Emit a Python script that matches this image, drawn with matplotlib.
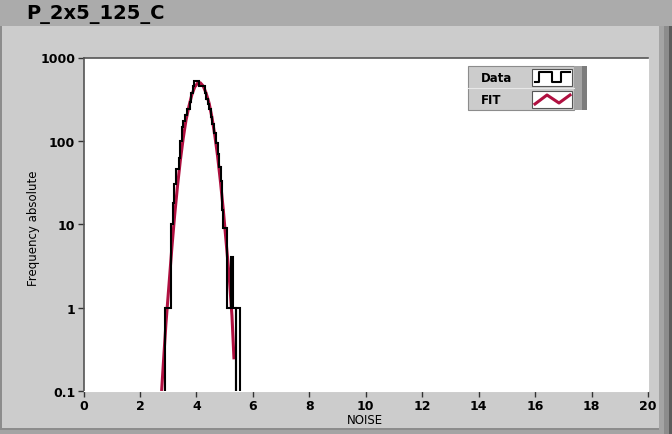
import matplotlib
matplotlib.use("Agg")
import matplotlib.pyplot as plt
from matplotlib.patches import Rectangle
import numpy as np

# ---------------- data ----------------
title = "P_2x5_125_C"
x_label = "NOISE"
y_label = "Frequency absolute"
legend_labels = ["Data", "FIT"]

# histogram bins (edges) and absolute frequencies
bin_edges = [2.87, 3.09, 3.16, 3.22, 3.28, 3.38, 3.43, 3.48, 3.54, 3.60, 3.67,
             3.76, 3.82, 3.88, 3.91, 4.10, 4.31, 4.35, 4.40, 4.45, 4.51, 4.57,
             4.63, 4.69, 4.75, 4.81, 4.86, 4.91, 4.96, 5.09, 5.21, 5.31, 5.40,
             5.41, 5.55]
counts = [1, 10, 18, 30, 46, 62, 100, 145, 175, 205, 240,
          290, 380, 450, 520, 455, 380, 320, 280, 240, 195, 160,
          125, 95, 70, 48, 33, 15, 9, 1, 4, 1, 0,
          1]

# fitted curve
fit_x = [2.75, 2.82, 2.92, 3.03, 3.13, 3.23, 3.33, 3.43, 3.53, 3.63, 3.74,
         3.84, 3.94, 4.04, 4.14, 4.24, 4.34, 4.45, 4.55, 4.65, 4.75, 4.85,
         4.95, 5.05, 5.16, 5.26, 5.33]
fit_y = [0.08, 0.19, 0.64, 1.9, 5.2, 12.9, 28.7, 58, 106, 176, 264,
         359, 442, 492, 497, 455, 377, 283, 192, 118, 66, 33,
         15.2, 6.3, 2.4, 0.8, 0.25]

x_ticks = [0, 2, 4, 6, 8, 10, 12, 14, 16, 18, 20]
y_ticks = [0.1, 1, 10, 100, 1000]
y_tick_labels = ["0.1", "1", "10", "100", "1000"]

# ---------------- figure ----------------
W, H = 672, 435
fig = plt.figure(figsize=(W / 100, H / 100), dpi=100)
fig.patch.set_facecolor("#cccccc")

# background/frame drawn in pixel coordinates
bg = fig.add_axes([0, 0, 1, 1], zorder=-5)
bg.set_xlim(0, W)
bg.set_ylim(H, 0)
bg.axis("off")
bg.add_patch(Rectangle((0, 0), W, 27, facecolor="#ababab", edgecolor="none"))
bg.add_patch(Rectangle((659, 27), 5, H - 27, facecolor="#a4a4a4", edgecolor="none"))
bg.add_patch(Rectangle((664, 27), 5, H - 27, facecolor="#8c8c8c", edgecolor="none"))
bg.add_patch(Rectangle((669, 27), 3, H - 27, facecolor="#5c5c5c", edgecolor="none"))
bg.add_patch(Rectangle((0, 27), 2, H - 27, facecolor="#8c8c8c", edgecolor="none"))
bg.add_patch(Rectangle((0, 429), 659, 6, facecolor="#a4a4a4", edgecolor="none"))
bg.add_patch(Rectangle((0, 429), 659, 1.5, facecolor="#8c8c8c", edgecolor="none"))
bg.text(26, 14, title, fontsize=14, fontweight="bold", color="black",
        ha="left", va="center", family="DejaVu Sans")
bg.text(33, 228, y_label, fontsize=8.5, rotation=90, ha="center", va="center",
        color="black")
bg.text(365, 421, x_label, fontsize=8.5, ha="center", va="center", color="black")

# main plot
L, R, T, B = 83.5, 648, 58.5, 392
ax = fig.add_axes([L / W, 1 - B / H, (R - L) / W, (B - T) / H])
ax.set_facecolor("white")
ax.set_yscale("log")
ax.set_xlim(0, 20)
ax.set_ylim(0.1, 1000)

ax.plot(fit_x, fit_y, color="#b01040", lw=2.2, solid_joinstyle="round", zorder=2)
counts_plot = [c if c > 0 else 1e-3 for c in counts]
ax.stairs(counts_plot, bin_edges, baseline=1e-3, color="black", lw=1.5, zorder=3)

ax.set_xticks(x_ticks)
ax.set_xticklabels([str(t) for t in x_ticks], fontsize=9, fontweight="bold")
ax.set_yticks(y_ticks)
ax.set_yticklabels(y_tick_labels, fontsize=9, fontweight="bold")
ax.minorticks_off()
ax.tick_params(axis="both", direction="out", length=4, width=1, color="#333333",
               pad=2)
for s in ["left", "top"]:
    ax.spines[s].set_color("#555555")
    ax.spines[s].set_linewidth(1.2)
for s in ["right", "bottom"]:
    ax.spines[s].set_color("white")
    ax.spines[s].set_linewidth(0.8)

# legend (drawn like the instrument panel legend)
lg = fig.add_axes([0, 0, 1, 1], zorder=10)
lg.set_xlim(0, W)
lg.set_ylim(H, 0)
lg.axis("off")
lg.add_patch(Rectangle((468, 67), 106, 44, facecolor="#cccccc", edgecolor="#8c8c8c", lw=0.8))
lg.add_patch(Rectangle((574, 67), 8, 44, facecolor="#a4a4a4", edgecolor="none"))
lg.add_patch(Rectangle((582, 67), 5, 44, facecolor="#7c7c7c", edgecolor="none"))
lg.plot([468, 574], [89, 89], color="#e8e8e8", lw=0.8)
lg.text(481, 78.5, legend_labels[0], fontsize=8.5, fontweight="bold", ha="left", va="center")
lg.text(481, 100.5, legend_labels[1], fontsize=8.5, fontweight="bold", ha="left", va="center")
lg.add_patch(Rectangle((532, 70), 40, 17, facecolor="white", edgecolor="#555555", lw=0.8))
lg.add_patch(Rectangle((532, 92), 40, 17, facecolor="white", edgecolor="#555555", lw=0.8))
lg.plot([535, 539, 539, 552, 552, 561, 561, 570], [83, 83, 73, 73, 83, 83, 73, 73],
        color="black", lw=1.5)
lg.plot([535, 547, 559, 570], [105, 96, 104, 96], color="#b01040", lw=2.2)

fig.savefig("out.png", dpi=100, facecolor=fig.get_facecolor())
